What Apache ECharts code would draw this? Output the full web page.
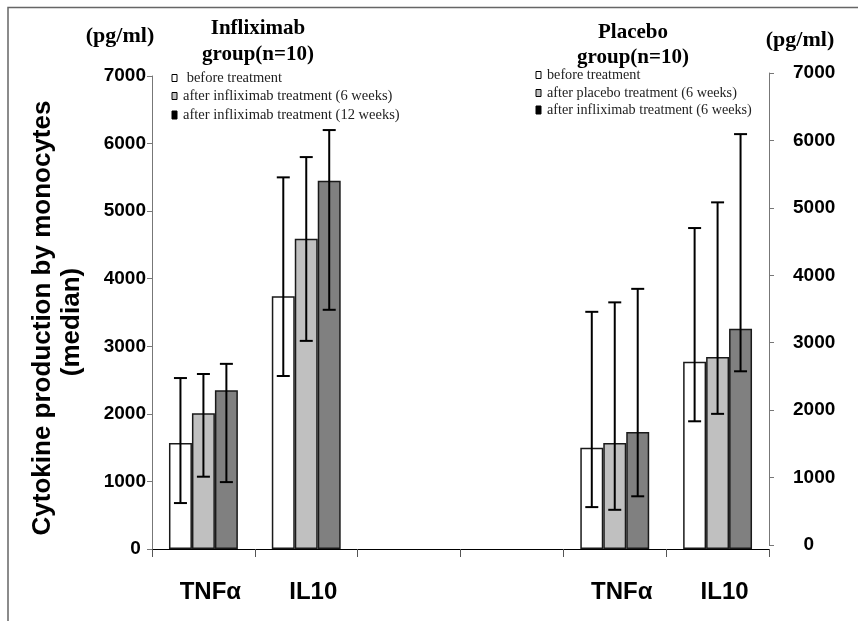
<!DOCTYPE html>
<html>
<head>
<meta charset="utf-8">
<script src="https://cdn.jsdelivr.net/npm/echarts@6/dist/echarts.min.js"></script>
<style>
  html, body { margin: 0; padding: 0; background: #fff; }
  #chart { width: 858px; height: 621px; }
</style>
</head>
<body>
<div id="chart"></div>
<script>
// Cytokine categories: infliximab group on the left, placebo group on the right,
// two empty slots separate the panels.
const categories = ['TNFα', 'IL10', '', '', 'TNFα', 'IL10'];

// Medians (pg/ml) per visit
const beforeTx = [1570, 3740, null, null, 1500, 2770];
const after6w  = [2010, 4590, null, null, 1570, 2840];
const afterEnd = [2350, 5450, null, null, 1730, 3260];

// Whisker ranges (low / high)
const beforeLow  = [680, 2560, null, null, 620, 1890];
const beforeHigh = [2530, 5500, null, null, 3510, 4750];
const after6wLow  = [1070, 3080, null, null, 580, 2000];
const after6wHigh = [2590, 5800, null, null, 3650, 5130];
const afterEndLow  = [990, 3540, null, null, 780, 2630];
const afterEndHigh = [2740, 6200, null, null, 3850, 6140];

const yTicks = { min: 0, max: 7000, step: 1000 };

const leftHeader = ['Infliximab', 'group(n=10)'];
const rightHeader = ['Placebo', 'group(n=10)'];
const unitLabel = '(pg/ml)';
const yTitle = ['Cytokine production by monocytes', '(median)'];
const leftLegend = [' before treatment', 'after infliximab treatment (6 weeks)', 'after infliximab treatment (12 weeks)'];
const rightLegend = ['before treatment', 'after placebo treatment (6 weeks)', 'after infliximab treatment (6 weeks)'];

const fills = ['#ffffff', '#c0c0c0', '#808080'];
const legendFills = ['#ffffff', '#c0c0c0', '#000000'];
const CAT_GAP = 0.33;
const SANS = 'Arial, "Liberation Sans", sans-serif';
const SERIF = '"Times New Roman", "Liberation Serif", serif';

function errorData(lo, hi) {
  const out = [];
  lo.forEach((v, i) => { if (v != null) out.push([i, v, hi[i]]); });
  return out;
}

function errorRenderer(k) {
  return function (params, api) {
    const xi = api.value(0);
    const lo = api.coord([xi, api.value(1)]);
    const hi = api.coord([xi, api.value(2)]);
    const band = api.size([1, 0])[0];
    const bw = band * (1 - CAT_GAP) / 3;
    const x = lo[0] + (k - 1) * bw;
    const cap = 6.5;
    const st = { stroke: '#000', lineWidth: 2 };
    return {
      type: 'group',
      children: [
        { type: 'line', shape: { x1: x, y1: hi[1], x2: x, y2: lo[1] }, style: st },
        { type: 'line', shape: { x1: x - cap, y1: hi[1], x2: x + cap, y2: hi[1] }, style: st },
        { type: 'line', shape: { x1: x - cap, y1: lo[1], x2: x + cap, y2: lo[1] }, style: st }
      ]
    };
  };
}

function barSeries(name, data, k) {
  return {
    name: name, type: 'bar', data: data,
    barGap: '0%', barCategoryGap: (CAT_GAP * 100) + '%',
    itemStyle: { color: fills[k], borderColor: '#1a1a1a', borderWidth: 1.5 },
    silent: true, animation: false
  };
}

function errSeries(lo, hi, k) {
  return {
    type: 'custom', renderItem: errorRenderer(k), data: errorData(lo, hi),
    z: 5, silent: true, animation: false
  };
}

function legendBlock(items, boxX, textX, rows, size) {
  const els = [];
  items.forEach((t, i) => {
    const h = i === 2 ? 8 : 7;
    els.push({ type: 'rect', shape: { x: boxX, y: rows[i] - h / 2, width: 5, height: h },
      style: { fill: legendFills[i], stroke: '#000', lineWidth: 1 } });
    els.push({ type: 'text', x: textX, y: rows[i],
      style: { text: t, font: size + 'px ' + SERIF, fill: '#222', textAlign: 'left', textVerticalAlign: 'middle' } });
  });
  return els;
}

function headerText(lines, cx, ys) {
  return lines.map((t, i) => ({ type: 'text', x: cx, y: ys[i],
    style: { text: t, font: 'bold 21px ' + SERIF, fill: '#000', textAlign: 'center', textVerticalAlign: 'middle' } }));
}

const chart = echarts.init(document.getElementById('chart'), null, { renderer: 'canvas' });

chart.setOption({
  backgroundColor: '#fff',
  animation: false,
  grid: [
    { left: 152, right: 89, top: 76, bottom: 72 },
    { left: 700, right: 89, top: 73, bottom: 76 }
  ],
  xAxis: [
    {
      type: 'category', data: categories, gridIndex: 0,
      axisLine: { lineStyle: { color: '#000', width: 1 } },
      axisTick: { show: true, interval: 0, length: 8, lineStyle: { color: '#555' } },
      axisLabel: { interval: 0, margin: 31, color: '#000', fontFamily: SANS, fontWeight: 'bold', fontSize: 24,
        padding: [0, 0, 0, 14] }
    },
    { type: 'value', gridIndex: 1, show: false, min: 0, max: 1 }
  ],
  yAxis: [
    {
      type: 'value', gridIndex: 0, min: yTicks.min, max: yTicks.max, interval: yTicks.step,
      axisLine: { show: true, onZero: false, lineStyle: { color: '#777', width: 1 } },
      axisTick: { show: true, length: 5, lineStyle: { color: '#777' } },
      splitLine: { show: false },
      axisLabel: { margin: 6, color: '#000', fontFamily: SANS, fontWeight: 'bold', fontSize: 19,
        formatter: v => (v === 0 ? '0 ' : String(v)) }
    },
    {
      type: 'value', gridIndex: 1, position: 'right', min: yTicks.min, max: yTicks.max, interval: yTicks.step,
      axisLine: { show: true, onZero: false, lineStyle: { color: '#777', width: 1 } },
      axisTick: { show: true, length: 5, lineStyle: { color: '#777' } },
      splitLine: { show: false },
      axisLabel: { margin: 24, color: '#000', fontFamily: SANS, fontWeight: 'bold', fontSize: 19,
        formatter: v => (v === 0 ? '  0' : String(v)) }
    }
  ],
  series: [
    barSeries('before', beforeTx, 0),
    barSeries('6 weeks', after6w, 1),
    barSeries('final', afterEnd, 2),
    errSeries(beforeLow, beforeHigh, 0),
    errSeries(after6wLow, after6wHigh, 1),
    errSeries(afterEndLow, afterEndHigh, 2)
  ],
  graphic: [
    // outer frame
    { type: 'polyline', shape: { points: [[8, 640], [8, 7.5], [870, 7.5]] },
      style: { stroke: '#666', lineWidth: 1.5, fill: null } },
    { type: 'text', x: 120, y: 36,
      style: { text: unitLabel, font: 'bold 22px ' + SERIF, fill: '#000', textAlign: 'center', textVerticalAlign: 'middle' } },
    { type: 'text', x: 800, y: 40,
      style: { text: unitLabel, font: 'bold 22px ' + SERIF, fill: '#000', textAlign: 'center', textVerticalAlign: 'middle' } },
    ...headerText(leftHeader, 258, [29, 55]),
    ...headerText(rightHeader, 633, [33, 58]),
    ...legendBlock(leftLegend, 172, 183, [78, 96, 115], 14.5),
    ...legendBlock(rightLegend, 536, 547, [75, 93, 110], 14.2),
    { type: 'text', x: 43, y: 318, rotation: Math.PI / 2,
      style: { text: yTitle[0], font: 'bold 26px ' + SANS, fill: '#000', textAlign: 'center', textVerticalAlign: 'middle' } },
    { type: 'text', x: 72, y: 322, rotation: Math.PI / 2,
      style: { text: yTitle[1], font: 'bold 26px ' + SANS, fill: '#000', textAlign: 'center', textVerticalAlign: 'middle' } }
  ]
});
</script>
</body>
</html>
